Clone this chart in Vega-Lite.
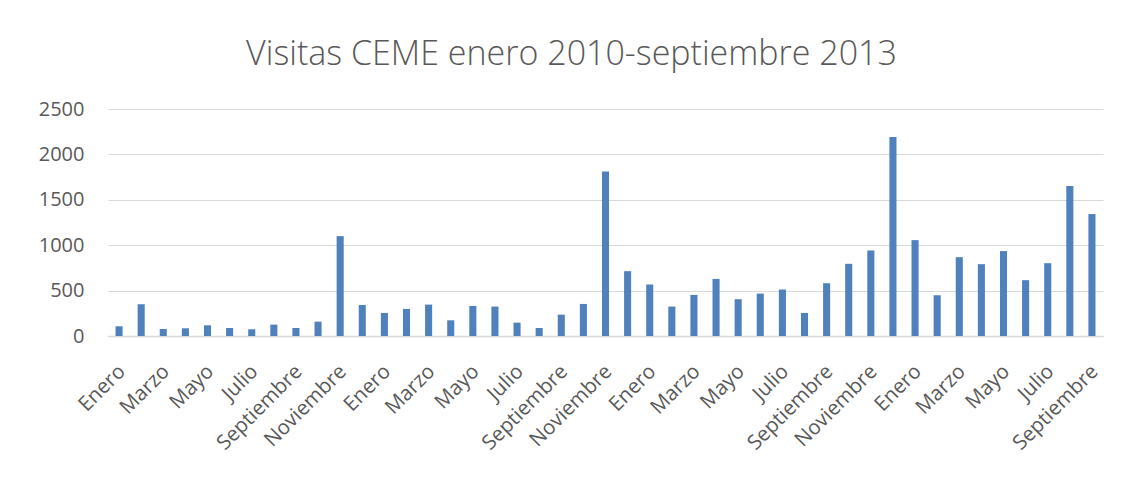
{
  "$schema": "https://vega.github.io/schema/vega-lite/v6.json",
  "width": 995,
  "height": 227,
  "autosize": "none",
  "padding": {"left": 108, "top": 109, "right": 25, "bottom": 147},
  "background": "white",
  "title": {
    "text": "Visitas CEME enero 2010-septiembre 2013",
    "font": "Open Sans",
    "fontSize": 34,
    "fontWeight": 300,
    "color": "#595959",
    "anchor": "middle",
    "frame": "group",
    "baseline": "alphabetic",
    "offset": 0,
    "dx": -34
  },
  "data": {
    "values": [
      {"fecha": "2010-01", "visitas": 107},
      {"fecha": "2010-02", "visitas": 350},
      {"fecha": "2010-03", "visitas": 77},
      {"fecha": "2010-04", "visitas": 85},
      {"fecha": "2010-05", "visitas": 118},
      {"fecha": "2010-06", "visitas": 88},
      {"fecha": "2010-07", "visitas": 74},
      {"fecha": "2010-08", "visitas": 125},
      {"fecha": "2010-09", "visitas": 88},
      {"fecha": "2010-10", "visitas": 158},
      {"fecha": "2010-11", "visitas": 1100},
      {"fecha": "2010-12", "visitas": 342},
      {"fecha": "2011-01", "visitas": 254},
      {"fecha": "2011-02", "visitas": 298},
      {"fecha": "2011-03", "visitas": 346},
      {"fecha": "2011-04", "visitas": 173},
      {"fecha": "2011-05", "visitas": 331},
      {"fecha": "2011-06", "visitas": 324},
      {"fecha": "2011-07", "visitas": 147},
      {"fecha": "2011-08", "visitas": 88},
      {"fecha": "2011-09", "visitas": 235},
      {"fecha": "2011-10", "visitas": 353},
      {"fecha": "2011-11", "visitas": 1811},
      {"fecha": "2011-12", "visitas": 714},
      {"fecha": "2012-01", "visitas": 567},
      {"fecha": "2012-02", "visitas": 324},
      {"fecha": "2012-03", "visitas": 453},
      {"fecha": "2012-04", "visitas": 629},
      {"fecha": "2012-05", "visitas": 405},
      {"fecha": "2012-06", "visitas": 467},
      {"fecha": "2012-07", "visitas": 512},
      {"fecha": "2012-08", "visitas": 254},
      {"fecha": "2012-09", "visitas": 581},
      {"fecha": "2012-10", "visitas": 795},
      {"fecha": "2012-11", "visitas": 942},
      {"fecha": "2012-12", "visitas": 2193},
      {"fecha": "2013-01", "visitas": 1056},
      {"fecha": "2013-02", "visitas": 449},
      {"fecha": "2013-03", "visitas": 868},
      {"fecha": "2013-04", "visitas": 791},
      {"fecha": "2013-05", "visitas": 935},
      {"fecha": "2013-06", "visitas": 615},
      {"fecha": "2013-07", "visitas": 802},
      {"fecha": "2013-08", "visitas": 1652},
      {"fecha": "2013-09", "visitas": 1343}
    ]
  },
  "mark": {"type": "bar", "color": "#4F81BD"},
  "encoding": {
    "x": {
      "field": "fecha",
      "type": "ordinal",
      "sort": null,
      "scale": {"paddingInner": 0.68, "paddingOuter": 0.34},
      "axis": {
        "title": null,
        "labelExpr": "['Enero','','Marzo','','Mayo','','Julio','','Septiembre','','Noviembre',''][toNumber(substring(datum.value,5,7))-1]",
        "labelAngle": -45,
        "labelFont": "Open Sans",
        "labelFontSize": 20.5,
        "labelColor": "#595959",
        "labelPadding": 25,
        "labelOffset": -4,
        "labelOverlap": false,
        "ticks": false,
        "domainColor": "#D9D9D9",
        "domainWidth": 1.5,
        "grid": false
      }
    },
    "y": {
      "field": "visitas",
      "type": "quantitative",
      "scale": {"domain": [0, 2500]},
      "axis": {
        "title": null,
        "format": "d",
        "values": [0, 500, 1000, 1500, 2000, 2500],
        "labelFont": "Open Sans",
        "labelFontSize": 20,
        "labelColor": "#595959",
        "labelPadding": 24,
        "ticks": false,
        "domain": false,
        "gridColor": "#D9D9D9",
        "gridWidth": 1.2
      }
    }
  },
  "config": {"view": {"stroke": null}}
}
